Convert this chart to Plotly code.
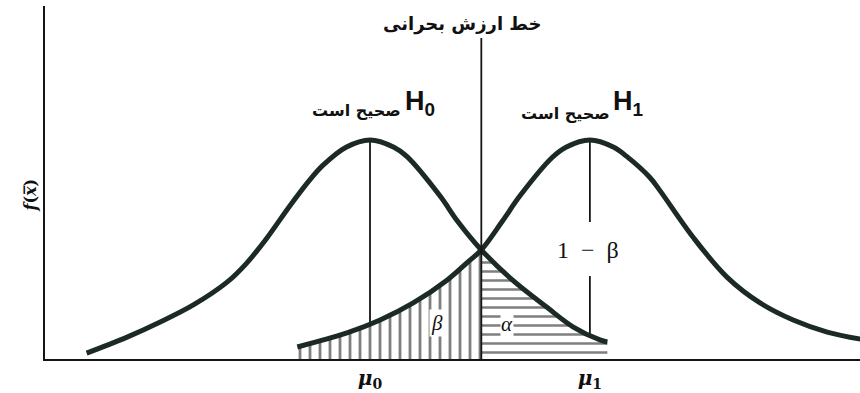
import plotly.graph_objects as go

# ---- data (x in sigma units, mu0 = 0; y relative to peak height) ----
MU0 = 0.0
MU1 = 2.39
CRIT = 1.21

H0_x = [-3.08, -2.64, -2.28, -1.92, -1.55, -1.34, -1.12, -0.87, -0.65, -0.51, -0.26,
        0.0, 0.26, 0.40, 0.76, 0.95, 1.21, 1.55, 1.92, 2.21, 2.50, 2.58]
H0_y = [0.027, 0.10, 0.169, 0.247, 0.352, 0.438, 0.553, 0.70, 0.82, 0.885, 0.967,
        1.0, 0.967, 0.925, 0.745, 0.63, 0.498, 0.36, 0.237, 0.146, 0.087, 0.078]

H1_x = [-0.79, -0.25, 0.11, 0.47, 0.84, 1.05, 1.21, 1.44, 1.63, 1.98, 2.13, 2.39,
        2.65, 2.79, 3.04, 3.15, 3.51, 3.88, 4.24, 4.60, 4.97, 5.33]
H1_y = [0.055, 0.119, 0.178, 0.256, 0.361, 0.438, 0.498, 0.63, 0.745, 0.92, 0.967, 1.0,
        0.967, 0.925, 0.83, 0.77, 0.557, 0.374, 0.256, 0.178, 0.123, 0.091]

TICK_VALS = [MU0, MU1]
TICK_TEXT = ["<b><i>μ</i><sub>0</sub></b>", "<b><i>μ</i><sub>1</sub></b>"]

TITLE_TEXT = "خط ارزش بحرانی"
CORRECT_TEXT = "صحیح است"
H0_TEXT = "<b>H<sub>0</sub></b>"
H1_TEXT = "<b>H<sub>1</sub></b>"
YLABEL = "<b><i>f</i>(<i>x̅</i>)</b>"

# ---- geometry helpers (pixel -> data) ----
W, H = 860, 393
ML, MR, MT, MB = 45, 0, 6, 34
PX0, SX = 370.0, 92.0
BASE, SY = 359.0, 219.0


def X(px):
    return (px - PX0) / SX


def Y(py):
    return (BASE - py) / SY


CURVE = "#1c2a24"
INK = "#151515"

fig = go.Figure()

# beta region: under H1 left of critical value
bx = [x for x in H1_x if x <= CRIT]
by = [y for x, y in zip(H1_x, H1_y) if x <= CRIT]
fig.add_trace(go.Scatter(
    x=bx, y=by, mode="lines", line=dict(width=0, shape="spline", color=CURVE),
    fill="tozeroy", fillcolor="white",
    fillpattern=dict(shape="|", size=10, solidity=0.28, fgcolor="#000", bgcolor="white"),
    hoverinfo="skip", showlegend=False))

# alpha region: under H0 right of critical value
ax_ = [x for x in H0_x if x >= CRIT]
ay_ = [y for x, y in zip(H0_x, H0_y) if x >= CRIT]
fig.add_trace(go.Scatter(
    x=ax_, y=ay_, mode="lines", line=dict(width=0, shape="spline", color=CURVE),
    fill="tozeroy", fillcolor="white",
    fillpattern=dict(shape="-", size=9, solidity=0.28, fgcolor="#000", bgcolor="white"),
    hoverinfo="skip", showlegend=False))

# curves
fig.add_trace(go.Scatter(x=H0_x, y=H0_y, mode="lines",
                         line=dict(width=5, shape="spline", color=CURVE),
                         hoverinfo="skip", showlegend=False))
fig.add_trace(go.Scatter(x=H1_x, y=H1_y, mode="lines",
                         line=dict(width=5, shape="spline", color=CURVE),
                         hoverinfo="skip", showlegend=False))

shapes = [
    dict(type="line", xref="x", yref="y", x0=MU0, x1=MU0, y0=0, y1=max(H0_y),
         line=dict(color=INK, width=1.8), layer="below"),
    dict(type="line", xref="x", yref="y", x0=MU1, x1=MU1, y0=Y(222), y1=max(H1_y),
         line=dict(color=INK, width=1.8), layer="below"),
    dict(type="line", xref="x", yref="y", x0=MU1, x1=MU1, y0=0, y1=Y(276),
         line=dict(color=INK, width=1.8), layer="below"),
    dict(type="line", xref="x", yref="y", x0=CRIT, x1=CRIT, y0=0, y1=Y(38),
         line=dict(color=INK, width=1.8), layer="above"),
]

annotations = [
    dict(x=X(462), y=Y(24), xref="x", yref="y", text="<b>" + TITLE_TEXT + "</b>",
         showarrow=False, font=dict(family="DejaVu Sans", size=18, color="#111")),
    dict(x=X(356), y=Y(110), xref="x", yref="y", text="<b>" + CORRECT_TEXT + "</b>",
         showarrow=False, font=dict(family="DejaVu Sans", size=16, color="#111")),
    dict(x=X(420), y=Y(103), xref="x", yref="y", text=H0_TEXT,
         showarrow=False, font=dict(family="Liberation Sans", size=27, color="#111")),
    dict(x=X(565), y=Y(113), xref="x", yref="y", text="<b>" + CORRECT_TEXT + "</b>",
         showarrow=False, font=dict(family="DejaVu Sans", size=16, color="#111")),
    dict(x=X(628), y=Y(103), xref="x", yref="y", text=H1_TEXT,
         showarrow=False, font=dict(family="Liberation Sans", size=27, color="#111")),
    dict(x=X(588), y=Y(250), xref="x", yref="y", text="1  −  β",
         showarrow=False, font=dict(family="Liberation Serif", size=24, color="#111")),
    dict(x=X(437), y=Y(323), xref="x", yref="y", text="<i>β</i>",
         showarrow=False, bgcolor="white", borderpad=1,
         font=dict(family="Liberation Serif", size=21, color="#111")),
    dict(x=X(507), y=Y(324), xref="x", yref="y", text="<i>α</i>",
         showarrow=False, bgcolor="white", borderpad=0,
         font=dict(family="Liberation Serif", size=21, color="#111")),
    dict(x=(18 - ML) / (W - ML - MR), y=Y(195), xref="paper", yref="y", text=YLABEL,
         textangle=-90, showarrow=False,
         font=dict(family="DejaVu Serif", size=16, color="#111")),
]

fig.update_layout(
    width=W, height=H,
    margin=dict(l=ML, r=MR, t=MT, b=MB),
    paper_bgcolor="white", plot_bgcolor="white",
    shapes=shapes, annotations=annotations,
    xaxis=dict(range=[X(ML), X(W - MR)], showgrid=False, zeroline=False,
               showline=True, linecolor=INK, linewidth=2.2,
               tickmode="array", tickvals=TICK_VALS, ticktext=TICK_TEXT,
               ticks="", tickfont=dict(family="DejaVu Serif", size=20, color="#111"),
               fixedrange=True),
    yaxis=dict(range=[0, Y(MT)], showgrid=False, zeroline=False,
               showline=True, linecolor=INK, linewidth=2.2,
               showticklabels=False, ticks="", fixedrange=True),
)

fig.write_html("out.html", config={"displayModeBar": False},
               post_script="document.body.style.margin='0';document.body.style.overflow='hidden';")
